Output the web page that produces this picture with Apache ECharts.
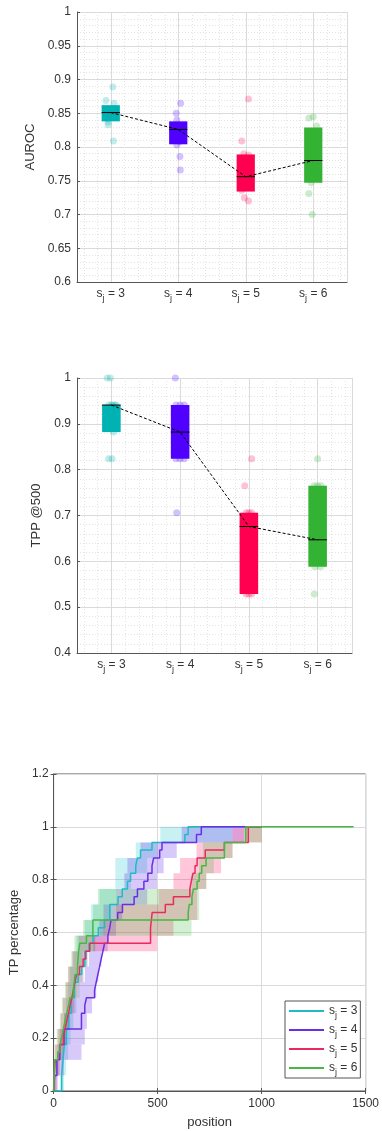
<!DOCTYPE html>
<html><head><meta charset="utf-8">
<script src="https://cdn.jsdelivr.net/npm/echarts@6/dist/echarts.min.js"></script>
<style>html,body{margin:0;padding:0;background:#fff}#c{width:382px;height:1131px}</style>
</head><body><div id="c"></div>
<script>
// ---------- categories ----------
const categories = ['3', '4', '5', '6'];
const catPos = [1, 2, 3, 4];

// ---------- AUROC panel ----------
const aurocQ1 = [0.838, 0.804, 0.734, 0.747];
const aurocMed = [0.851, 0.826, 0.756, 0.780];
const aurocQ3 = [0.862, 0.838, 0.789, 0.829];
const aurocPts3 = [0.889, 0.869, 0.865, 0.856, 0.851, 0.846, 0.842, 0.837, 0.833, 0.809];
const aurocJit3 = [0.03, -0.07, 0.05, 0.06, -0.02, 0.04, -0.05, -0.04, -0.04, 0.04];
const aurocPts4 = [0.865, 0.850, 0.840, 0.830, 0.826, 0.815, 0.808, 0.803, 0.786, 0.766];
const aurocJit4 = [0.035, -0.03, -0.02, 0.04, -0.05, 0.05, 0.02, -0.02, 0.025, 0.03];
const aurocPts5 = [0.871, 0.809, 0.790, 0.788, 0.770, 0.758, 0.754, 0.736, 0.725, 0.720];
const aurocJit5 = [0.04, -0.06, -0.03, 0.04, -0.05, 0.02, -0.04, -0.06, -0.02, 0.04];
const aurocPts6 = [0.845, 0.843, 0.831, 0.812, 0.790, 0.780, 0.770, 0.747, 0.731, 0.700];
const aurocJit6 = [0.0, -0.065, 0.05, -0.03, 0.04, -0.05, 0.03, -0.03, -0.065, -0.015];

// ---------- TPP@500 panel ----------
const tppQ1 = [0.882, 0.824, 0.529, 0.588];
const tppMed = [0.941, 0.882, 0.676, 0.647];
const tppQ3 = [0.941, 0.941, 0.706, 0.765];
const tppPts3 = [1, 1, 0.941, 0.941, 0.941, 0.941, 0.941, 0.882, 0.824, 0.824];
const tppJit3 = [-0.06, -0.015, 0.02, 0.05, -0.04, 0.0, 0.07, 0.03, -0.04, 0.01];
const tppPts4 = [1, 0.941, 0.941, 0.941, 0.882, 0.882, 0.824, 0.824, 0.824, 0.706];
const tppJit4 = [-0.07, -0.06, 0.0, 0.06, -0.04, 0.05, -0.06, 0.0, 0.06, -0.05];
const tppPts5 = [0.824, 0.765, 0.706, 0.706, 0.706, 0.647, 0.588, 0.529, 0.529, 0.529];
const tppJit5 = [0.04, -0.06, -0.04, 0.0, 0.04, -0.03, 0.02, -0.04, 0.0, 0.04];
const tppPts6 = [0.824, 0.765, 0.765, 0.765, 0.647, 0.647, 0.647, 0.588, 0.588, 0.529];
const tppJit6 = [0.0, -0.05, 0.0, 0.05, -0.03, 0.02, 0.05, -0.04, 0.04, -0.05];

// ---------- TP percentage curves (step change points) ----------
const curveX3 = [0, 39, 45, 52, 62, 72, 85, 100, 118, 135, 150, 170, 189, 215, 245, 270, 310, 330, 355, 370, 395, 403, 418, 473, 631, 647, 1000];
const curveY3 = [0, 0.059, 0.118, 0.176, 0.235, 0.294, 0.353, 0.412, 0.441, 0.471, 0.529, 0.559, 0.588, 0.618, 0.647, 0.706, 0.735, 0.765, 0.794, 0.824, 0.853, 0.882, 0.912, 0.941, 0.971, 1.0, 1.0];
const curveX4 = [0, 5, 16, 30, 50, 134, 150, 158, 197, 205, 213, 221, 229, 237, 245, 261, 270, 276, 308, 331, 387, 403, 434, 453, 473, 481, 510, 521, 687, 710, 1000];
const curveY4 = [0, 0.059, 0.118, 0.176, 0.235, 0.294, 0.324, 0.353, 0.382, 0.412, 0.441, 0.471, 0.5, 0.529, 0.559, 0.588, 0.618, 0.647, 0.676, 0.706, 0.735, 0.765, 0.794, 0.824, 0.853, 0.882, 0.912, 0.941, 0.971, 1.0, 1.0];
const curveX5 = [0, 3, 8, 20, 31, 47, 55, 63, 72, 79, 88, 95, 103, 110, 125, 142, 155, 174, 466, 474, 537, 576, 655, 662, 670, 680, 690, 729, 821, 936, 1000];
const curveY5 = [0, 0.059, 0.118, 0.147, 0.176, 0.206, 0.235, 0.265, 0.294, 0.324, 0.353, 0.382, 0.412, 0.441, 0.471, 0.5, 0.529, 0.559, 0.618, 0.676, 0.706, 0.735, 0.765, 0.794, 0.824, 0.853, 0.882, 0.912, 0.941, 1.0, 1.0];
const curveX6 = [0, 5, 20, 31, 40, 47, 55, 63, 72, 79, 95, 103, 115, 120, 126, 158, 189, 647, 652, 665, 672, 690, 700, 712, 733, 821, 924, 1442];
const curveY6 = [0, 0.118, 0.147, 0.176, 0.206, 0.235, 0.265, 0.294, 0.324, 0.353, 0.382, 0.441, 0.471, 0.529, 0.559, 0.588, 0.647, 0.676, 0.706, 0.735, 0.765, 0.794, 0.824, 0.853, 0.882, 0.941, 1.0, 1.0];

// ---------- shaded ranges: per TP level, earliest / latest position ----------
const bandLo = [0, 0.059, 0.118, 0.176, 0.235, 0.294, 0.353, 0.412, 0.471, 0.529, 0.588, 0.647, 0.706, 0.765, 0.824, 0.882, 0.941];
const bandHi = [0.059, 0.118, 0.176, 0.235, 0.294, 0.353, 0.412, 0.471, 0.529, 0.588, 0.647, 0.706, 0.765, 0.824, 0.882, 0.941, 1.0];
const bandStart3 = [30, 35, 40, 45, 52, 60, 70, 80, 95, 110, 150, 180, 221, 297, 297, 395, 513];
const bandEnd3   = [50, 60, 70, 82, 95, 110, 125, 145, 165, 200, 245, 275, 300, 371, 450, 497, 860];
const bandStart4 = [0, 10, 20, 30, 50, 80, 120, 150, 170, 190, 220, 240, 300, 340, 355, 418, 616];
const bandEnd4   = [20, 50, 134, 150, 160, 185, 205, 215, 230, 260, 300, 330, 450, 497, 529, 592, 915];
const bandStart5 = [0, 3, 8, 20, 35, 45, 60, 70, 90, 120, 240, 300, 505, 576, 608, 687, 860];
const bandEnd5   = [15, 30, 50, 65, 80, 100, 120, 140, 160, 497, 576, 690, 690, 734, 805, 860, 1000];
const bandStart6 = [0, 0, 5, 15, 30, 40, 55, 70, 85, 100, 142, 190, 213, 663, 700, 718, 915];
const bandEnd6   = [10, 25, 40, 60, 75, 90, 110, 125, 140, 200, 663, 700, 700, 734, 770, 860, 1000];

// ---------- tick labels / names ----------
const legendNames = ['s_j = 3', 's_j = 4', 's_j = 5', 's_j = 6'];
const posTicks = [0, 500, 1000, 1500];

// ---------- styling ----------
const FONT = '"Liberation Sans", Arial, Helvetica, sans-serif';
const TXT = '#333333';
const AX = '#555555';
const GRID_MAJ = '#dadada';
const GRID_MIN = '#e4e4e4';
const boxColors = ['#00b2b2', '#5000ff', '#ff0050', '#33b233'];
const ptColors = ['rgba(0,178,178,0.3)', 'rgba(80,0,255,0.3)', 'rgba(255,0,80,0.3)', 'rgba(51,178,51,0.3)'];
const lineColors = ['#1fbcc4', '#6a2ee6', '#ea2a5e', '#45b845'];
const bandColors = ['rgba(0,190,195,0.22)', 'rgba(100,40,240,0.25)', 'rgba(255,0,80,0.22)', 'rgba(50,180,50,0.22)'];
const BOX_HALF = 0.135;

const subRich = {
  a: { fontSize: 12, fontFamily: FONT, color: TXT, lineHeight: 18, verticalAlign: 'middle' },
  b: { fontSize: 9, fontFamily: FONT, color: TXT, lineHeight: 9, verticalAlign: 'middle', padding: [9, 0, 0, 0] }
};
function subLabel(n) { return '{a|s}{b|j}{a| = ' + n + '}'; }

function boxPanelAxes(gi, ymin, ymax, yint, yname, ygap) {
  const xs = [
    { type: 'category', gridIndex: gi, data: categories, boundaryGap: true,
      axisLine: { lineStyle: { color: AX } },
      axisTick: { alignWithLabel: true, inside: true, length: 3, lineStyle: { color: AX } },
      axisLabel: { margin: 3, interval: 0, formatter: v => subLabel(v), rich: subRich },
      splitLine: { show: false }, z: 5 },
    { type: 'value', gridIndex: gi, min: 0.5, max: 4.5, splitNumber: 20,
      axisLine: { show: false }, axisTick: { show: false }, axisLabel: { show: false },
      splitLine: { show: true, lineStyle: { color: GRID_MIN, type: [1, 2], width: 1 } } },
    { type: 'value', gridIndex: gi, min: 0.5, max: 4.5, splitNumber: 4,
      axisLine: { show: false }, axisTick: { show: false }, axisLabel: { show: false },
      splitLine: { show: true, lineStyle: { color: GRID_MAJ, width: 1 } } }
  ];
  const y = { type: 'value', gridIndex: gi, min: ymin, max: ymax, interval: yint,
    name: yname, nameLocation: 'middle', nameGap: ygap,
    nameTextStyle: { fontSize: 13, fontFamily: FONT, color: TXT },
    axisLine: { show: true, lineStyle: { color: AX } },
    axisTick: { show: true, inside: true, length: 3, lineStyle: { color: AX } },
    axisLabel: { margin: 6, fontSize: 12, fontFamily: FONT, color: TXT },
    splitLine: { show: true, lineStyle: { color: GRID_MAJ, width: 1 } },
    minorTick: { show: false, splitNumber: 5 },
    minorSplitLine: { show: true, lineStyle: { color: GRID_MIN, type: [1, 2], width: 1 } } };
  return { xs, y };
}

function boxPanelSeries(xIdx, yIdx, q1, med, q3, ptsList, jitList) {
  const out = [];
  ptsList.forEach((pts, g) => {
    out.push({ type: 'scatter', xAxisIndex: xIdx, yAxisIndex: yIdx, symbolSize: 7, z: 2,
      itemStyle: { color: ptColors[g] }, silent: true,
      data: pts.map((v, i) => [catPos[g] + jitList[g][i], v]) });
  });
  out.push({ type: 'custom', xAxisIndex: xIdx, yAxisIndex: yIdx, z: 3, silent: true,
    encode: { x: 0, y: [1, 2, 3] },
    data: catPos.map((c, i) => [c, q1[i], med[i], q3[i]]),
    renderItem: (params, api) => {
      const x = api.value(0), a = api.value(1), m = api.value(2), b = api.value(3);
      const tl = api.coord([x - BOX_HALF, b]);
      const br = api.coord([x + BOX_HALF, a]);
      const ml = api.coord([x - BOX_HALF, m]);
      const mr = api.coord([x + BOX_HALF, m]);
      return { type: 'group', children: [
        { type: 'rect', shape: { x: tl[0], y: tl[1], width: br[0] - tl[0], height: br[1] - tl[1] },
          style: { fill: boxColors[params.dataIndex] } },
        { type: 'line', shape: { x1: ml[0], y1: ml[1], x2: mr[0], y2: mr[1] },
          style: { stroke: '#000', lineWidth: 1 } }
      ] };
    } });
  out.push({ type: 'line', xAxisIndex: xIdx, yAxisIndex: yIdx, z: 4, silent: true,
    symbol: 'none', lineStyle: { color: '#000', width: 1, type: [3, 2] },
    data: catPos.map((c, i) => [c, med[i]]) });
  return out;
}

const p1 = boxPanelAxes(0, 0.6, 1, 0.05, 'AUROC', 33);
const p2 = boxPanelAxes(1, 0.4, 1, 0.1, 'TPP @500', 28);

const xAxes = [...p1.xs, ...p2.xs,
  { type: 'value', gridIndex: 2, min: posTicks[0], max: posTicks[posTicks.length - 1], interval: 500,
    name: 'position', nameLocation: 'middle', nameGap: 25,
    nameTextStyle: { fontSize: 13, fontFamily: FONT, color: TXT },
    axisLine: { show: true, lineStyle: { color: AX } },
    axisTick: { show: true, inside: true, length: 3, lineStyle: { color: AX } },
    axisLabel: { margin: 7, fontSize: 12, fontFamily: FONT, color: TXT, formatter: v => String(v) },
    splitLine: { show: true, lineStyle: { color: GRID_MAJ } } },
  { type: 'value', gridIndex: 2, position: 'top', min: 0, max: 1500, interval: 500,
    axisLine: { show: false }, axisLabel: { show: false }, splitLine: { show: false },
    axisTick: { show: true, inside: true, length: 3, lineStyle: { color: AX } } }
];
const yAxes = [p1.y, p2.y,
  { type: 'value', gridIndex: 2, min: 0, max: 1.2, interval: 0.2,
    name: 'TP percentage', nameLocation: 'middle', nameGap: 27,
    nameTextStyle: { fontSize: 13, fontFamily: FONT, color: TXT },
    axisLine: { show: true, lineStyle: { color: AX } },
    axisTick: { show: true, inside: true, length: 3, lineStyle: { color: AX } },
    axisLabel: { margin: 5, fontSize: 12, fontFamily: FONT, color: TXT },
    splitLine: { show: true, lineStyle: { color: GRID_MAJ } } },
  { type: 'value', gridIndex: 2, position: 'right', min: 0, max: 1.2, interval: 0.2,
    axisLine: { show: false }, axisLabel: { show: false }, splitLine: { show: false },
    axisTick: { show: true, inside: true, length: 3, lineStyle: { color: AX } } }
];

const series = [
  ...boxPanelSeries(2, 0, aurocQ1, aurocMed, aurocQ3,
      [aurocPts3, aurocPts4, aurocPts5, aurocPts6], [aurocJit3, aurocJit4, aurocJit5, aurocJit6]),
  ...boxPanelSeries(5, 1, tppQ1, tppMed, tppQ3,
      [tppPts3, tppPts4, tppPts5, tppPts6], [tppJit3, tppJit4, tppJit5, tppJit6])
];

const bandStarts = [bandStart3, bandStart4, bandStart5, bandStart6];
const bandEnds = [bandEnd3, bandEnd4, bandEnd5, bandEnd6];
bandStarts.forEach((st, g) => {
  series.push({ type: 'custom', xAxisIndex: 6, yAxisIndex: 2, z: 2, silent: true,
    encode: { x: [0, 1], y: [2, 3] },
    data: st.map((s, i) => [s, bandEnds[g][i], bandLo[i], bandHi[i]]),
    renderItem: (params, api) => {
      const p0 = api.coord([api.value(0), api.value(3)]);
      const p1c = api.coord([api.value(1), api.value(2)]);
      return { type: 'rect', shape: { x: p0[0], y: p0[1], width: p1c[0] - p0[0], height: p1c[1] - p0[1] },
        style: { fill: bandColors[g] } };
    } });
});
const curveXs = [curveX3, curveX4, curveX5, curveX6];
const curveYs = [curveY3, curveY4, curveY5, curveY6];
curveXs.forEach((xs, g) => {
  series.push({ type: 'line', name: legendNames[g], xAxisIndex: 6, yAxisIndex: 2, z: 5 + g,
    step: 'end', symbol: 'none', showSymbol: false, silent: true,
    lineStyle: { color: lineColors[g], width: 1.5 }, itemStyle: { color: lineColors[g] },
    data: xs.map((x, i) => [x, curveYs[g][i]]) });
});

const option = {
  animation: false,
  backgroundColor: '#ffffff',
  grid: [
    { left: 77, top: 12, width: 270, height: 270 },
    { left: 77, top: 378, width: 275, height: 275 },
    { left: 52, top: 774, width: 316, height: 317, show: true, borderColor: AX, borderWidth: 1 }
  ],
  xAxis: xAxes,
  yAxis: yAxes,
  legend: {
    orient: 'vertical', left: 285, top: 1001, data: legendNames,
    icon: 'rect', itemWidth: 35, itemHeight: 2, itemGap: 1,
    padding: [1, 3, 1, 4], backgroundColor: '#fff', borderColor: AX, borderWidth: 1,
    formatter: n => subLabel(n.slice(-1)),
    textStyle: { rich: subRich }
  },
  series
};

const chart = echarts.init(document.getElementById('c'), null, { renderer: 'canvas' });
chart.setOption(option);
</script></body></html>
